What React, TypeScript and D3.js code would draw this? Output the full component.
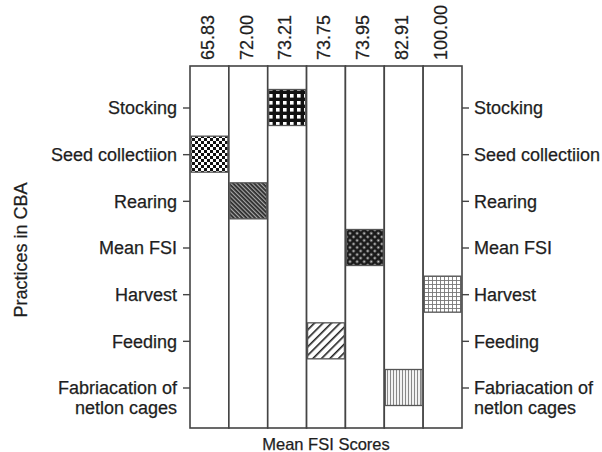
import React from 'react';
import * as d3 from 'd3';

// column headers (mean FSI score) and the practice placed in each column
const scores = ['65.83', '72.00', '73.21', '73.75', '73.95', '82.91', '100.00'];
const columnPractice = [
  'Seed collectiion',
  'Rearing',
  'Stocking',
  'Feeding',
  'Mean FSI',
  'Fabriacation of netlon cages',
  'Harvest',
];
const practices = [
  'Stocking',
  'Seed collectiion',
  'Rearing',
  'Mean FSI',
  'Harvest',
  'Feeding',
  'Fabriacation of netlon cages',
];
const patternIds = ['checker', 'backdiag', 'bigGrid', 'fwdDiag', 'crossDiag', 'vlines', 'fineGrid'];

const W = 602;
const H = 452;
const margin = { top: 66, right: 140, bottom: 24, left: 190 };
const FONT = '"Liberation Sans", Arial, sans-serif';
const LINE = '#444';
const TXT = '#1e1e1e';

const App = () => {
  const innerLeft = margin.left;
  const innerRight = W - margin.right;
  const innerTop = margin.top;
  const innerBottom = H - margin.bottom;

  const x = d3.scaleBand<string>().domain(scores).range([innerLeft, innerRight]).padding(0);
  const y = d3.scalePoint<string>().domain(practices).range([108, 388]);
  const boxH = 36;

  const labelLines = (p: string) =>
    p === 'Fabriacation of netlon cages' ? ['Fabriacation of', 'netlon cages'] : [p];

  const textStyle = { stroke: TXT, strokeWidth: 0.25 };

  return (
    <svg
      width={W}
      height={H}
      style={{ position: 'absolute', left: 0, top: 0, background: '#fff' }}
      fontFamily={FONT}
    >
      <defs>
        <pattern id="checker" width={6} height={6} patternUnits="userSpaceOnUse">
          <rect width={6} height={6} fill="#fff" />
          <rect width={3} height={3} fill="#111" />
          <rect x={3} y={3} width={3} height={3} fill="#111" />
        </pattern>
        <pattern id="backdiag" width={3} height={3} patternUnits="userSpaceOnUse" patternTransform="rotate(-45)">
          <rect width={3} height={3} fill="#2a2a2a" />
          <rect width={1.2} height={3} fill="#aaa" />
        </pattern>
        <pattern id="bigGrid" width={7} height={7} patternUnits="userSpaceOnUse" patternTransform="translate(1 1)">
          <rect width={7} height={7} fill="#111" />
          <rect x={2} y={2} width={3.6} height={3.6} fill="#fff" />
        </pattern>
        <pattern id="crossDiag" width={5} height={5} patternUnits="userSpaceOnUse" patternTransform="rotate(45)">
          <rect width={5} height={5} fill="#1a1a1a" />
          <rect x={1.5} y={1.5} width={2} height={2} fill="#ddd" />
        </pattern>
        <pattern id="fwdDiag" width={6} height={6} patternUnits="userSpaceOnUse" patternTransform="rotate(45)">
          <rect width={6} height={6} fill="#fff" />
          <rect width={1.6} height={6} fill="#222" />
        </pattern>
        <pattern id="vlines" width={3} height={3} patternUnits="userSpaceOnUse">
          <rect width={3} height={3} fill="#f2f2f2" />
          <rect width={1} height={3} fill="#888" />
        </pattern>
        <pattern id="fineGrid" width={4} height={4} patternUnits="userSpaceOnUse">
          <rect width={4} height={4} fill="#fff" />
          <rect width={0.9} height={4} fill="#777" />
          <rect width={4} height={0.9} fill="#777" />
        </pattern>
      </defs>

      {/* columns */}
      {scores.map((s) => (
        <rect
          key={s}
          x={x(s)}
          y={innerTop}
          width={x.bandwidth()}
          height={innerBottom - innerTop}
          fill="#fff"
          stroke={LINE}
          strokeWidth={1.6}
        />
      ))}

      {/* patterned boxes */}
      {scores.map((s, i) => (
        <rect
          key={'b' + s}
          x={(x(s) ?? 0) + 1}
          y={(y(columnPractice[i]) ?? 0) - boxH / 2 - 0.5}
          width={x.bandwidth() - 2}
          height={boxH}
          fill={`url(#${patternIds[i]})`}
          stroke="#555"
          strokeWidth={1.3}
        />
      ))}

      {/* column header labels */}
      {scores.map((s) => {
        const cx = (x(s) ?? 0) + x.bandwidth() / 2 - 2;
        return (
          <text
            key={'t' + s}
            transform={`translate(${cx},60) rotate(-90)`}
            textAnchor="start"
            dy="0.35em"
            fontSize={18}
            fill={TXT}
            style={textStyle}
          >
            {s}
          </text>
        );
      })}

      {/* left and right ticks + labels */}
      {practices.map((p) => {
        const ty = y(p) ?? 0;
        const lines = labelLines(p);
        return (
          <g key={'l' + p}>
            <line x1={innerLeft - 7} x2={innerLeft} y1={ty} y2={ty} stroke={LINE} strokeWidth={1.4} />
            <line x1={innerRight} x2={innerRight + 7} y1={ty} y2={ty} stroke={LINE} strokeWidth={1.4} />
            {lines.map((ln, j) => (
              <React.Fragment key={ln}>
                <text x={177} y={ty + j * 20} dy="0.35em" textAnchor="end" fontSize={18} fill={TXT} style={textStyle}>
                  {ln}
                </text>
                <text x={474} y={ty + j * 20} dy="0.35em" textAnchor="start" fontSize={18} fill={TXT} style={textStyle}>
                  {ln}
                </text>
              </React.Fragment>
            ))}
          </g>
        );
      })}

      {/* axis titles */}
      <text
        transform={`translate(21,${(108 + 388) / 2 + 2}) rotate(-90)`}
        textAnchor="middle"
        dy="0.35em"
        fontSize={18}
        fill={TXT}
        style={textStyle}
      >
        Practices in CBA
      </text>
      <text
        x={(innerLeft + innerRight) / 2}
        y={450}
        textAnchor="middle"
        fontSize={16.5}
        fill={TXT}
        style={textStyle}
      >
        Mean FSI Scores
      </text>
    </svg>
  );
};

export default App;
